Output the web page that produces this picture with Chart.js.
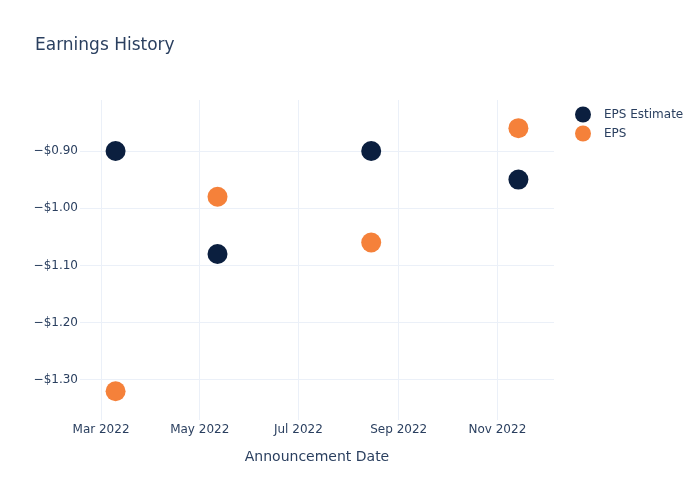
<!DOCTYPE html>
<html>
<head>
<meta charset="utf-8">
<script src="https://cdn.jsdelivr.net/npm/chart.js@4/dist/chart.umd.min.js"></script>
<style>
html,body{margin:0;padding:0;background:#fff;}
#wrap{width:700px;height:500px;position:relative;}
</style>
</head>
<body>
<div id="wrap"><canvas id="c" width="700" height="500"></canvas></div>
<script>
// ---- data ----
const announcementDates = ["2022-03-10", "2022-05-12", "2022-08-15", "2022-11-14"];
const epsEstimate = [-0.90, -1.08, -0.90, -0.95];
const epsActual = [-1.32, -0.98, -1.06, -0.86];
const xTickDates = ["2022-03-01", "2022-05-01", "2022-07-01", "2022-09-01", "2022-11-01"];
const yTickValues = [-1.30, -1.20, -1.10, -1.00, -0.90];
const xRange = ["2022-02-16", "2022-12-06"];
const yRange = [-1.3703, -0.8108];
const seriesNames = ["EPS Estimate", "EPS"];
const seriesColors = ["#0b1f3f", "#f5813a"];
const titleText = "Earnings History";
const xAxisTitle = "Announcement Date";

const MONTHS = ["Jan","Feb","Mar","Apr","May","Jun","Jul","Aug","Sep","Oct","Nov","Dec"];
const ts = d => Date.parse(d + "T00:00:00Z");
const fmtDate = v => { const d = new Date(v); return MONTHS[d.getUTCMonth()] + " " + d.getUTCFullYear(); };
const fmtMoney = v => (v < 0 ? "\u2212" : "") + "$" + Math.abs(v).toFixed(2);

const FONT = "DejaVu Sans";
const TXT = "#2a3f5f";
const GRID = "#ebf0f8";

const toPts = vals => announcementDates.map((d, i) => ({x: ts(d), y: vals[i]}));

const overlay = {
  id: "overlay",
  afterDraw(chart) {
    const ctx = chart.ctx;
    ctx.save();
    ctx.fillStyle = TXT;
    ctx.textBaseline = "middle";
    ctx.textAlign = "left";
    ctx.font = "17px '" + FONT + "'";
    ctx.fillText(titleText, 35, 45.5);
    ctx.font = "12px '" + FONT + "'";
    seriesNames.forEach((n, i) => {
      const y = 114.5 + i * 19;
      ctx.beginPath();
      ctx.fillStyle = seriesColors[i];
      ctx.arc(583, y, 8, 0, Math.PI * 2);
      ctx.fill();
      ctx.fillStyle = TXT;
      ctx.fillText(n, 604, y + 0.5);
    });
    ctx.font = "14px '" + FONT + "'";
    ctx.textAlign = "center";
    const ca = chart.chartArea;
    ctx.fillText(xAxisTitle, (ca.left + ca.right) / 2, 457);
    ctx.restore();
  }
};

new Chart(document.getElementById("c"), {
  type: "scatter",
  data: {
    datasets: [
      {label: seriesNames[0], data: toPts(epsEstimate), backgroundColor: seriesColors[0], borderColor: seriesColors[0], pointRadius: 10, pointHoverRadius: 10, borderWidth: 0},
      {label: seriesNames[1], data: toPts(epsActual), backgroundColor: seriesColors[1], borderColor: seriesColors[1], pointRadius: 10, pointHoverRadius: 10, borderWidth: 0}
    ]
  },
  options: {
    responsive: false,
    animation: false,
    devicePixelRatio: 1,
    layout: {padding: {top: 100, right: 146, left: 0, bottom: 0}},
    plugins: {legend: {display: false}, title: {display: false}, tooltip: {enabled: false}},
    scales: {
      x: {
        type: "linear",
        min: ts(xRange[0]), max: ts(xRange[1]),
        afterBuildTicks: s => { s.ticks = xTickDates.map(d => ({value: ts(d)})); },
        afterFit: s => { s.height = 80; },
        grid: {color: GRID, drawTicks: false, lineWidth: 1},
        border: {display: false},
        ticks: {callback: v => fmtDate(v), color: TXT, font: {family: FONT, size: 12}, padding: 3, maxRotation: 0, autoSkip: false}
      },
      y: {
        min: yRange[0], max: yRange[1],
        afterBuildTicks: s => { s.ticks = yTickValues.map(v => ({value: v})); },
        afterFit: s => { s.width = 80; },
        grid: {color: GRID, drawTicks: false, lineWidth: 1},
        border: {display: false},
        ticks: {callback: v => fmtMoney(v), color: TXT, font: {family: FONT, size: 12}, padding: 2, autoSkip: false}
      }
    }
  },
  plugins: [overlay]
});
</script>
</body>
</html>
